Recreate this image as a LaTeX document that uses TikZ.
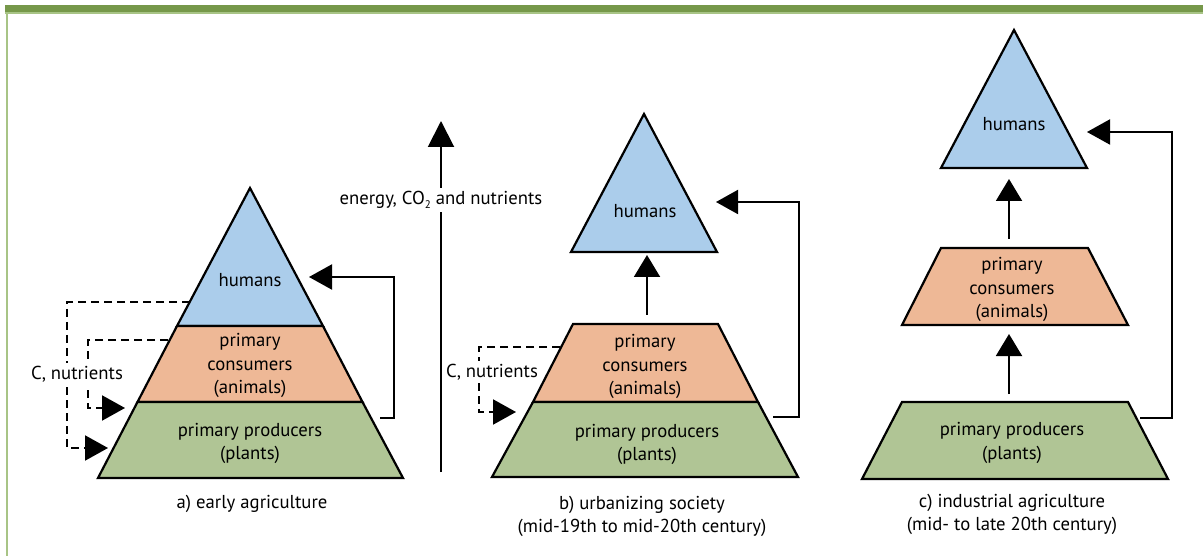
\documentclass[tikz,border=0pt]{standalone}
\usepackage{fontspec}
\setmainfont{PT Sans}
\usetikzlibrary{arrows.meta}
\definecolor{hum}{HTML}{ABCDEB}
\definecolor{con}{HTML}{EEB896}
\definecolor{pro}{HTML}{B0C595}
\definecolor{barg}{HTML}{76984A}
\definecolor{lineg}{HTML}{A8C486}
\begin{document}
\begin{tikzpicture}[x=1pt,y=-1pt,
  layer/.style={draw=black, line width=2.2pt},
  txt/.style={font=\fontsize{18.7}{23.5}\selectfont, align=center, inner sep=0pt},
  flow/.style={line width=2pt, -{Triangle[length=23pt,width=25pt]}},
  dflow/.style={flow, dash pattern=on 8pt off 5pt},
  lbl/.style={txt, fill=white, inner sep=3pt}]
\useasboundingbox (0,0) rectangle (1203,556);
% frame
\fill[lineg] (5.5,12) rectangle (7.8,556);
\fill[lineg] (5,12) rectangle (1203,14);
\fill[barg] (5,5) rectangle (1203,12.5);

% ---------- panel a ----------
\filldraw[layer, fill=hum] (250,188) -- (323,326) -- (177,326) -- cycle;
\filldraw[layer, fill=con] (177,326) -- (323,326) -- (362.5,402) -- (137.5,402) -- cycle;
\filldraw[layer, fill=pro] (137.5,402) -- (362.5,402) -- (403,478) -- (98,478) -- cycle;
\node[txt] (ahum) at (250,280) {humans};
\node[txt] (acon) at (250,365.5) {primary\\consumers\\(animals)};
\node[txt] (apro) at (250,443.5) {primary producers\\(plants)};
\node[txt] (acap) at (252,504) {a) early agriculture};

\coordinate (a1s) at (380,418);
\coordinate (a1c) at (394,277);
\coordinate (a1e) at (309,277);
\draw[flow] (a1s) -| (a1c) -- (a1e);

\coordinate (a2s) at (190,302);
\coordinate (a2c) at (67,302);
\coordinate (a2e) at (108,448);
\draw[dflow] (a2s) -- (a2c) |- (a2e);
\coordinate (a3s) at (168,340);
\coordinate (a3c) at (88,340);
\coordinate (a3e) at (125,408);
\draw[dflow] (a3s) -- (a3c) |- (a3e);
\node[lbl] (anut) at (77,374) {C, nutrients};

% energy arrow
\coordinate (es) at (441,472);
\coordinate (ee) at (441,121);
\draw[line width=2pt, -{Triangle[length=26pt,width=26pt]}] (es) -- (ee);
\node[lbl] (elab) at (441,200) {energy, CO\raisebox{-0.45ex}{\fontsize{11}{11}\selectfont 2} and nutrients};

% ---------- panel b ----------
\filldraw[layer, fill=hum] (644,114) -- (717,252) -- (571,252) -- cycle;
\filldraw[layer, fill=con] (573,324) -- (718,324) -- (758,402) -- (533,402) -- cycle;
\filldraw[layer, fill=pro] (533,402) -- (758,402) -- (798,477) -- (492,477) -- cycle;
\node[txt] (bhum) at (645,211) {humans};
\node[txt] (bcon) at (645,366.5) {primary\\consumers\\(animals)};
\node[txt] (bpro) at (647,444.5) {primary producers\\(plants)};
\node[txt] (bcap) at (642,516.5) {b) urbanizing society\\(mid-19th to mid-20th century)};

\coordinate (b1s) at (647,315);
\coordinate (b1e) at (647,255);
\draw[flow, -{Triangle[length=22pt,width=26pt]}] (b1s) -- (b1e);
\coordinate (b2s) at (773,417);
\coordinate (b2c) at (799,202);
\coordinate (b2e) at (716,202);
\draw[flow, -{Triangle[length=22pt,width=24pt]}] (b2s) -| (b2c) -- (b2e);
\coordinate (b3s) at (560,347);
\coordinate (b3c) at (479,347);
\coordinate (b3e) at (516,412);
\draw[dflow] (b3s) -- (b3c) |- (b3e);
\node[lbl] (bnut) at (492,372) {C, nutrients};

% ---------- panel c ----------
\filldraw[layer, fill=hum] (1014,30) -- (1087,168) -- (941,168) -- cycle;
\filldraw[layer, fill=con] (941,248) -- (1088,248) -- (1128,325) -- (902,325) -- cycle;
\filldraw[layer, fill=pro] (902,402) -- (1128,402) -- (1168,479) -- (862,479) -- cycle;
\node[txt] (chum) at (1014,124) {humans};
\node[txt] (ccon) at (1012,289.5) {primary\\consumers\\(animals)};
\node[txt] (cpro) at (1012,443) {primary producers\\(plants)};
\node[txt] (ccap) at (1012,514.5) {c) industrial agriculture\\(mid- to late 20th century)};

\coordinate (c1s) at (1009,239);
\coordinate (c1e) at (1009,179);
\draw[flow, -{Triangle[length=22pt,width=26pt]}] (c1s) -- (c1e);
\coordinate (c2s) at (1009,394);
\coordinate (c2e) at (1009,334);
\draw[flow, -{Triangle[length=22pt,width=26pt]}] (c2s) -- (c2e);
\coordinate (c3s) at (1140,418);
\coordinate (c3c) at (1172,132);
\coordinate (c3e) at (1087,132);
\draw[flow, -{Triangle[length=23pt,width=25pt]}] (c3s) -| (c3c) -- (c3e);
\end{tikzpicture}
\end{document}
